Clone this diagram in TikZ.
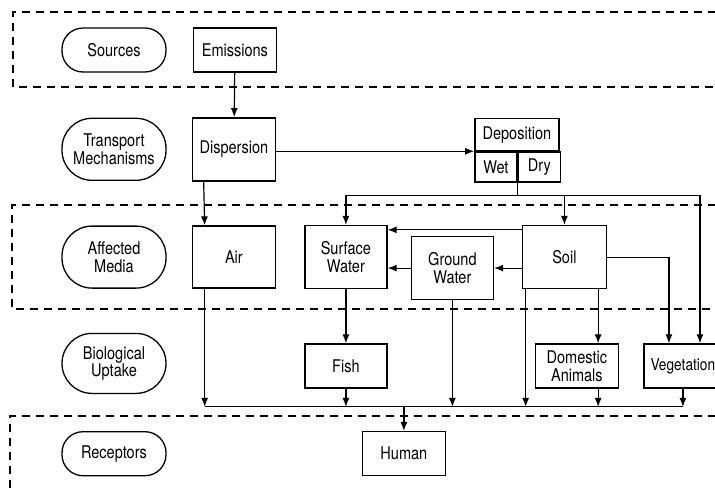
\documentclass[tikz,border=0pt]{standalone}
\usepackage{fontspec}
\setmainfont[FakeStretch=0.83]{TeX Gyre Heros}
\usetikzlibrary{positioning, arrows.meta}

\begin{document}
\begin{tikzpicture}[
    x=1pt, y=-1pt,
    font=\fontsize{17.5}{17.5}\selectfont,
    stage/.style={rectangle, rounded corners=21pt, draw, line width=1.3pt,
        align=center, minimum width=104pt, minimum height=44pt, inner sep=2pt},
    tallstage/.style={stage, rounded corners=30pt, minimum height=62pt},
    box/.style={rectangle, draw, line width=1.5pt, align=center,
        minimum width=83pt, minimum height=44pt, inner sep=2pt},
    tallbox/.style={box, minimum height=63pt},
    arrow/.style={-{Latex[length=9pt, width=7pt]}, line width=1.2pt},
    layer/.style={dash pattern=on 8pt off 6pt, line width=1.4pt}
]
\useasboundingbox (0,0) rectangle (715,490);
\clip (0,0) rectangle (715,490);

% dashed layers
\draw[layer] (730,12) -| (13,87) -- (730,87);
\draw[layer] (730,205) -| (12,309) -- (730,309);
\draw[layer] (730,416) -| (10,500);

% stages
\node[stage] (sources) at (114,50) {Sources};
\node[tallstage, below=45pt of sources] (transport) {Transport\\Mechanisms};
\node[tallstage, below=44.5pt of transport] (affected) {Affected\\Media};
\node[tallstage, minimum height=60pt, below=44pt of affected] (biological) {Biological\\Uptake};
\node[stage, below=37pt of biological] (receptors) {Receptors};

% boxes
\node[box, right=26pt of sources] (emissions) {Emissions};
\node[tallbox, right=25pt of transport] (dispersion) {Dispersion};
\node[box, minimum width=84pt, minimum height=32pt, anchor=south west,
    xshift=198pt, yshift=-2pt] (dep) at (dispersion.east) {Deposition};
\node[box, minimum width=42pt, minimum height=30pt,
    below right=0pt and 0pt of dep.south west] (wet) {Wet};
\node[box, minimum width=42pt, minimum height=30pt, right=0pt of wet] (dry) {Dry};
\node[tallbox, minimum height=62pt, right=25pt of affected] (air) {Air};
\node[tallbox, minimum width=82pt, right=28pt of air] (sw) {Surface\\Water};
\node[tallbox, minimum width=82pt, right=23pt of sw, yshift=-11pt] (gw) {Ground\\Water};
\node[tallbox, minimum width=84pt, right=134pt of sw] (soil) {Soil};
\node[box, minimum width=82pt, below=54pt of sw] (fish) {Fish};
\node[box, right=147pt of fish] (domestic) {Domestic\\Animals};
\node[box, minimum width=78pt, right=24pt of domestic,
    font=\fontsize{16.5}{17}\selectfont] (veg) {Vegetation};
\node[box, right=195pt of receptors] (human) {Human};
\coordinate[below=18pt of veg.south] (bus);

% connectors
\draw[arrow] (emissions) -- (dispersion);
\draw[arrow] (dispersion.east |- dep.south west) -- (dep.south west);
\draw[arrow] ([xshift=12pt]dispersion.south west) -- ([xshift=13pt]air.north west);
\draw[line width=1.2pt] (wet.south east) -- ++(0,13) coordinate (depjoin);
\draw[arrow] (depjoin) -| (sw.north);
\draw[arrow] (depjoin) -| (soil.north);
\draw[arrow] (depjoin) -| ([xshift=17pt]veg.north);
\draw[arrow] ([yshift=-5pt]soil.north west) -- ([yshift=-5pt]soil.north west -| sw.east);
\draw[arrow] (gw.east -| soil.west) -- (gw.east);
\draw[arrow] (gw.west) -- (gw.west -| sw.east);
\draw[arrow] (soil.east) -| ([xshift=-14pt]veg.north);
\draw[arrow] (sw.south) -- (sw.south |- fish.north);
\draw[arrow] ([xshift=-9pt]soil.south east) -- ([xshift=-9pt]soil.south east |- domestic.north);

% to the human
\draw[arrow] ([xshift=13pt]air.south west) -- ([xshift=13pt]air.south west |- bus);
\draw[arrow] (fish.south) -- (fish.south |- bus);
\draw[arrow] (gw.south) -- (gw.south |- bus);
\draw[arrow] ([xshift=4pt]soil.south west) -- ([xshift=4pt]soil.south west |- bus);
\draw[arrow] ([xshift=-9pt]soil.south east |- domestic.south) -- ([xshift=-9pt]soil.south east |- bus);
\draw[arrow] (veg.south) -- (bus);
\draw[line width=1.2pt] ([xshift=13pt]air.south west |- bus) -- (bus);
\draw[arrow] (bus -| human.north) -- (human.north);
\end{tikzpicture}
\end{document}
